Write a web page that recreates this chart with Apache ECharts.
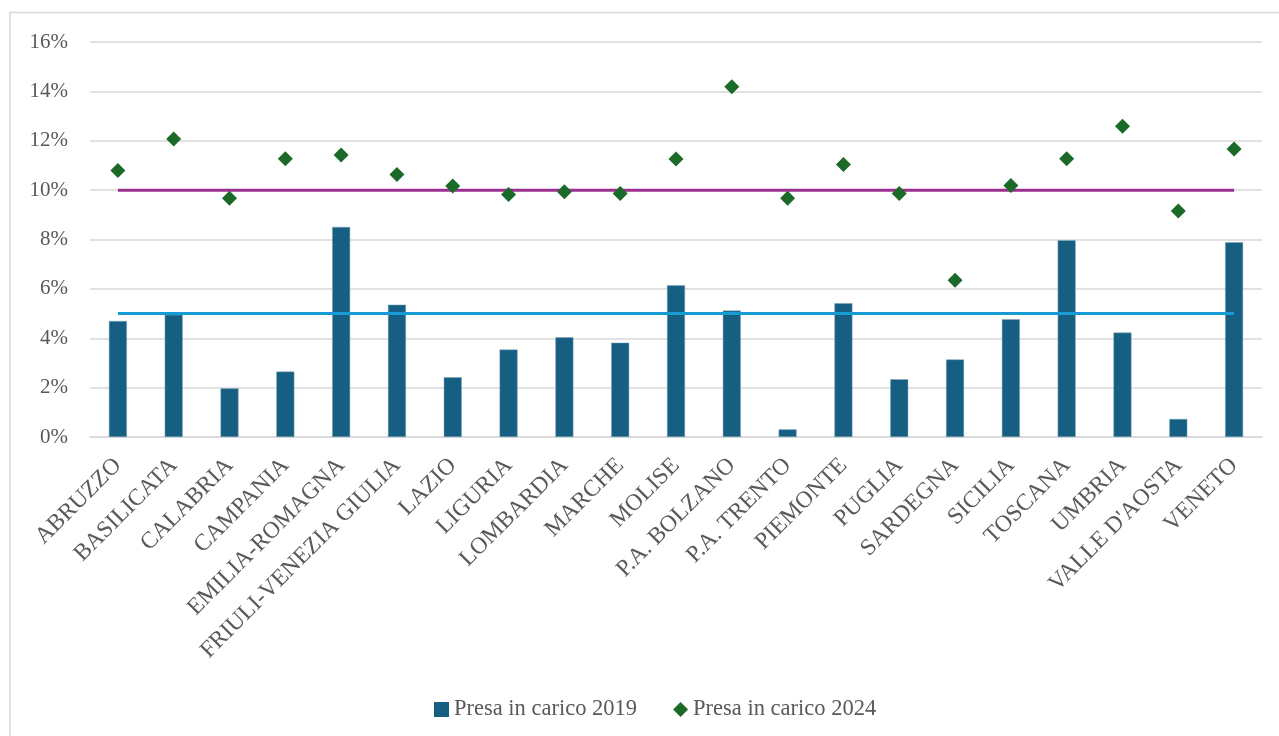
<!DOCTYPE html>
<html><head><meta charset="utf-8">
<script src="https://cdn.jsdelivr.net/npm/echarts@6/dist/echarts.min.js"></script>
<style>html,body{margin:0;padding:0;background:#fff}#c{width:1279px;height:736px}</style>
</head><body><div id="c"></div>
<script>
// Data (percent)
const categories = ["ABRUZZO","BASILICATA","CALABRIA","CAMPANIA","EMILIA-ROMAGNA","FRIULI-VENEZIA GIULIA","LAZIO","LIGURIA","LOMBARDIA","MARCHE","MOLISE","P.A. BOLZANO","P.A. TRENTO","PIEMONTE","PUGLIA","SARDEGNA","SICILIA","TOSCANA","UMBRIA","VALLE D'AOSTA","VENETO"];
const presa2019 = [4.70,4.95,1.97,2.65,8.51,5.36,2.42,3.54,4.04,3.82,6.15,5.12,0.31,5.42,2.34,3.14,4.77,7.97,4.23,0.73,7.89];
const presa2024 = [10.80,12.07,9.67,11.27,11.42,10.63,10.17,9.82,9.93,9.86,11.26,14.19,9.67,11.04,9.86,6.35,10.19,11.27,12.59,9.15,11.67];
const target2024 = [10,10,10,10,10,10,10,10,10,10,10,10,10,10,10,10,10,10,10,10,10];
const target2019 = [5,5,5,5,5,5,5,5,5,5,5,5,5,5,5,5,5,5,5,5,5];
const yMin = 0, yMax = 16, yStep = 2;

const FONT = '"Liberation Serif", "DejaVu Serif", serif';
const TXT = '#595959';
const chart = echarts.init(document.getElementById('c'), null, {renderer: 'canvas'});
chart.setOption({
  animation: false,
  backgroundColor: '#fff',
  graphic: [{
    type: 'rect', silent: true, z: -10,
    shape: {x: 10, y: 12.5, width: 1400, height: 900},
    style: {fill: 'none', stroke: '#d9d9d9', lineWidth: 1.5}
  }],
  grid: {left: 90, right: 17, top: 42, bottom: 299, containLabel: false},
  legend: {
    data: [
      {name: 'Presa in carico 2019', icon: 'rect', itemStyle: {borderWidth: 0}},
      {name: 'Presa in carico 2024', icon: 'diamond'}
    ],
    left: 429, top: 693, itemWidth: 15, itemHeight: 15, itemGap: 36,
    textStyle: {fontFamily: FONT, fontSize: 22.5, color: TXT}
  },
  xAxis: {
    type: 'category', data: categories,
    axisLine: {lineStyle: {color: '#d9d9d9', width: 1.5}},
    axisTick: {show: false},
    axisLabel: {interval: 0, rotate: 45, fontFamily: FONT, fontSize: 23.5, color: TXT, margin: 25}
  },
  yAxis: {
    type: 'value', min: yMin, max: yMax, interval: yStep,
    axisLine: {show: false}, axisTick: {show: false},
    axisLabel: {formatter: v => v + '%', fontFamily: FONT, fontSize: 21, color: TXT, margin: 22},
    splitLine: {lineStyle: {color: '#d9d9d9', width: 1.5}}
  },
  series: [
    {name: 'Presa in carico 2019', type: 'bar', data: presa2019, barWidth: 18,
     itemStyle: {color: '#175f82', borderColor: '#7fa6ba', borderWidth: 0.5}, z: 2},
    {name: 'target2019', type: 'line', data: target2019, symbol: 'none',
     lineStyle: {color: '#169bd5', width: 3}, z: 3},
    {name: 'target2024', type: 'line', data: target2024, symbol: 'none',
     lineStyle: {color: '#9b2f8e', width: 3}, z: 3},
    {name: 'Presa in carico 2024', type: 'scatter', data: presa2024, symbol: 'diamond',
     symbolSize: 15, itemStyle: {color: '#1b6a27', opacity: 1}, z: 4}
  ]
});
</script>
</body></html>
